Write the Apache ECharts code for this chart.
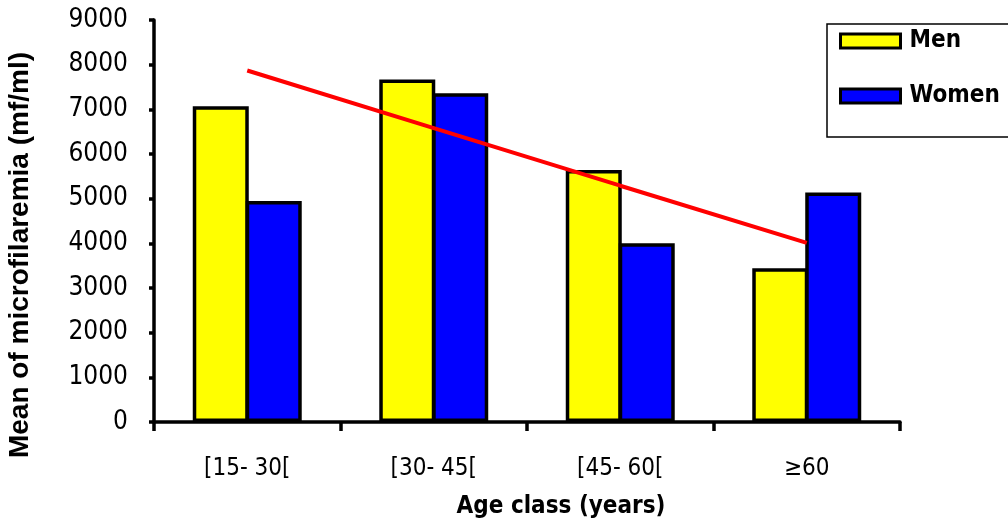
<!DOCTYPE html>
<html><head><meta charset="utf-8">
<script src="https://cdn.jsdelivr.net/npm/echarts@6/dist/echarts.min.js"></script>
<style>html,body{margin:0;padding:0;background:#fff}#c{width:1008px;height:528px}</style>
</head><body><div id="c"></div>
<script>
const categories = ['[15- 30[', '[30- 45[', '[45- 60[', '≥60'];
const men = [7070, 7670, 5640, 3440];
const women = [4950, 7360, 4000, 5140];
const trend = [7870, 6580, 5290, 4010];
const yTicks = [0, 9000, 1000];

const FONT = '"DejaVu Sans Condensed", "DejaVu Sans", sans-serif';
const ARIAL = '"Liberation Sans", Arial, sans-serif';
const chart = echarts.init(document.getElementById('c'), null, {renderer: 'canvas'});
chart.setOption({
  animation: false,
  backgroundColor: '#fff',
  grid: {left: 154, right: 108, top: 20, bottom: 106, containLabel: false, outerBoundsMode: 'none'},
  legend: {
    orient: 'vertical', left: 827, top: 24,
    padding: [5, 60, 29, 12], itemGap: 31,
    borderColor: '#000', borderWidth: 1.5,
    itemWidth: 60, itemHeight: 14, icon: 'rect',
    textStyle: {fontFamily: FONT, fontWeight: 'bold', fontSize: 24, color: '#000', padding: [0, 0, 0, 4]},
    data: ['Men', 'Women'],
    itemStyle: {borderColor: '#000', borderWidth: 3}
  },
  xAxis: {
    type: 'category', data: categories,
    name: 'Age class (years)', nameLocation: 'middle', nameGap: 73,
    nameTextStyle: {fontFamily: FONT, fontWeight: 'bold', fontSize: 24, color: '#000', padding: [0, 0, 0, 68]},
    axisLine: {lineStyle: {color: '#000', width: 3.5}},
    axisTick: {show: true, inside: false, length: 9, lineStyle: {color: '#000', width: 3.5}},
    axisLabel: {fontFamily: FONT, fontSize: 24, color: '#000', margin: 35}
  },
  yAxis: {
    type: 'value', min: yTicks[0], max: yTicks[1], interval: yTicks[2],
    name: 'Mean of microfilaremia (mf/ml)', nameLocation: 'middle', nameGap: 120,
    nameTextStyle: {fontFamily: ARIAL, fontWeight: 'bold', fontSize: 28, color: '#000', padding: [0, 68, 0, 0]},
    axisLine: {show: true, lineStyle: {color: '#000', width: 3.5}},
    axisTick: {show: true, length: 5, lineStyle: {color: '#000', width: 3.5}},
    axisLabel: {fontFamily: FONT, fontSize: 26, color: '#000', margin: 26, formatter: v => String(v)},
    splitLine: {show: false}
  },
  series: [
    {name: 'Men', type: 'bar', data: men, barWidth: 56, barGap: '-5.4%',
     itemStyle: {color: '#ffff00', borderColor: '#000', borderWidth: 3.5}},
    {name: 'Women', type: 'bar', data: women, barWidth: 56, barGap: '-5.4%',
     itemStyle: {color: '#0000ff', borderColor: '#000', borderWidth: 3.5}},
    {name: 'trend', type: 'line', data: trend, symbol: 'none', z: 5,
     lineStyle: {color: '#ff0000', width: 4}}
  ]
});
</script></body></html>
